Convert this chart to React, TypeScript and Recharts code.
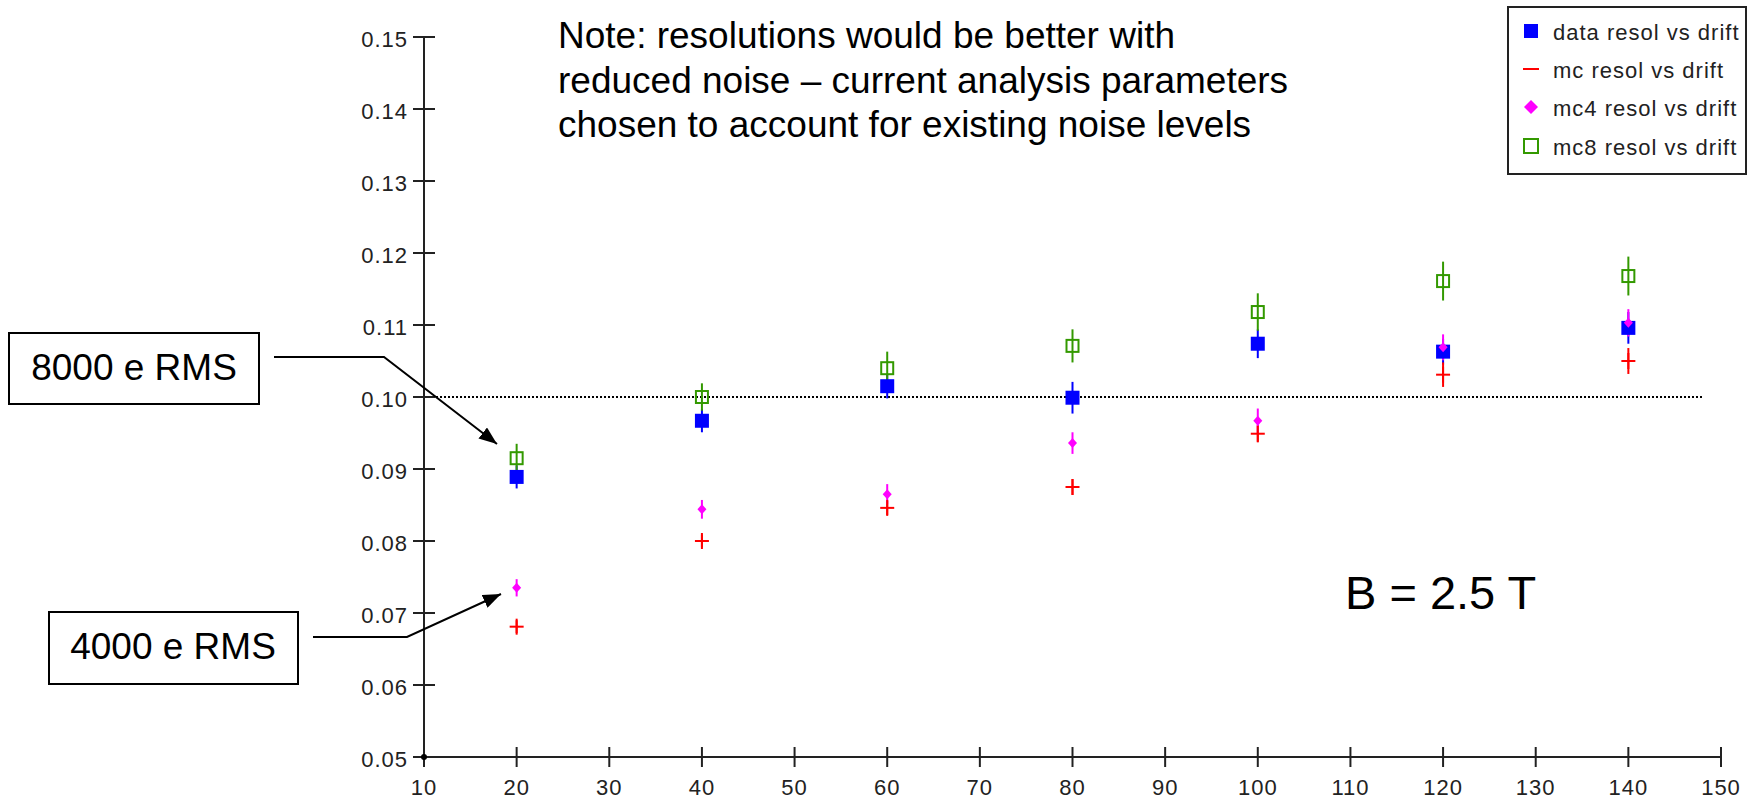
import React from 'react';
import { ScatterChart, Scatter, XAxis, YAxis, ErrorBar, ReferenceLine } from 'recharts';

// drift distance (x) and resolution values
const drift = [20, 40, 60, 80, 100, 120, 140];

const dataResol = [0.0889, 0.0967, 0.1015, 0.0999, 0.1074, 0.1063, 0.1096];
const dataErr = [0.0016, 0.0016, 0.0017, 0.0022, 0.002, 0.0018, 0.0022];

const mcResol = [0.0681, 0.08, 0.0846, 0.0875, 0.0949, 0.1031, 0.105];
const mcErr = [0.0009, 0.0009, 0.001, 0.0011, 0.0012, 0.0017, 0.0018];

const mc4Resol = [0.0735, 0.0844, 0.0865, 0.0936, 0.0967, 0.1069, 0.1103];
const mc4Err = [0.0012, 0.0013, 0.0014, 0.0015, 0.0017, 0.0018, 0.0019];

const mc8Resol = [0.0915, 0.1, 0.104, 0.1071, 0.1118, 0.1161, 0.1168];
const mc8Err = [0.002, 0.0019, 0.0023, 0.0023, 0.0026, 0.0027, 0.0027];

const xTicks = [10, 20, 30, 40, 50, 60, 70, 80, 90, 100, 110, 120, 130, 140, 150];
const yTicks = [0.05, 0.06, 0.07, 0.08, 0.09, 0.1, 0.11, 0.12, 0.13, 0.14, 0.15];

const legendLabels = ['data resol vs drift', 'mc resol vs drift', 'mc4 resol vs drift', 'mc8 resol vs drift'];

const noteLines = [
  'Note: resolutions would be better with',
  'reduced noise \u2013 current analysis parameters',
  'chosen to account for existing noise levels',
];

const toPoints = (vals: number[], errs: number[]) =>
  drift.map((x, i) => ({ x, y: vals[i], err: errs[i] }));

const AXIS = '#222';
const TICK_FONT = '"Liberation Sans", Arial, sans-serif';
const BLUE = '#0000ff';
const RED = '#ff0000';
const MAGENTA = '#ff00ff';
const GREEN = '#339900';

const BlueSquare = (p: any) => (
  <rect x={p.cx - 7} y={p.cy - 7} width={14} height={14} fill={BLUE} />
);
const RedCross = (p: any) => (
  <g stroke={RED} strokeWidth={2}>
    <line x1={p.cx - 7} x2={p.cx + 7} y1={p.cy} y2={p.cy} />
    <line x1={p.cx} x2={p.cx} y1={p.cy - 8} y2={p.cy + 8} />
  </g>
);
const MagentaDiamond = (p: any) => (
  <path d={`M${p.cx},${p.cy - 5} L${p.cx + 4.5},${p.cy} L${p.cx},${p.cy + 5} L${p.cx - 4.5},${p.cy} Z`} fill={MAGENTA} />
);
const GreenSquare = (p: any) => (
  <rect x={p.cx - 6} y={p.cy - 6} width={12} height={12} fill="none" stroke={GREEN} strokeWidth={2} />
);

const XTick = ({ x, y, payload }: any) => (
  <g>
    <line x1={x} x2={x} y1={y - 10} y2={y + 10} stroke={AXIS} strokeWidth={2} />
    <text x={x} y={y + 38} textAnchor="middle" fontSize={22} letterSpacing={1} fill={AXIS} fontFamily={TICK_FONT}>
      {payload.value}
    </text>
  </g>
);

const YTick = ({ x, y, payload }: any) => (
  <g>
    <line x1={x - 11} x2={x + 11} y1={y} y2={y} stroke={AXIS} strokeWidth={2} />
    <text x={x - 16} y={y + 10} textAnchor="end" fontSize={22} letterSpacing={1} fill={AXIS} fontFamily={TICK_FONT}>
      {Number(payload.value).toFixed(2)}
    </text>
  </g>
);

const legendMarks = [
  (cy: number) => <rect x={1524} y={cy - 7} width={14} height={14} fill={BLUE} />,
  (cy: number) => <line x1={1523} x2={1539} y1={cy} y2={cy} stroke={RED} strokeWidth={2} />,
  (cy: number) => <path d={`M1531,${cy - 7} L1538,${cy} L1531,${cy + 7} L1524,${cy} Z`} fill={MAGENTA} />,
  (cy: number) => <rect x={1524} y={cy - 7} width={14} height={14} fill="none" stroke={GREEN} strokeWidth={2} />,
];
const legendRows = [31, 69, 107, 146];

const Overlay = () => (
  <svg width={1757} height={799} style={{ position: 'absolute', left: 0, top: 0, pointerEvents: 'none' }}>
    <defs>
      <marker id="arrow" markerUnits="userSpaceOnUse" markerWidth={18} markerHeight={14} refX={18} refY={7} orient="auto">
        <path d="M0,0 L18,7 L0,14 Z" fill="#000" />
      </marker>
    </defs>
    <g fontFamily={TICK_FONT} fill="#000">
      {noteLines.map((t, i) => (
        <text key={t} x={558} y={48 + i * 44.5} fontSize={37}>{t}</text>
      ))}
      <text x={1345} y={609} fontSize={47}>B = 2.5 T</text>
    </g>
    <rect x={9} y={333} width={250} height={71} fill="#fff" stroke="#000" strokeWidth={2} />
    <text x={134} y={380} fontSize={37} textAnchor="middle" fontFamily={TICK_FONT}>8000 e RMS</text>
    <polyline points="274,357 384,357 497,444" fill="none" stroke="#000" strokeWidth={2} markerEnd="url(#arrow)" />
    <rect x={49} y={612} width={249} height={72} fill="#fff" stroke="#000" strokeWidth={2} />
    <text x={173} y={659} fontSize={37} textAnchor="middle" fontFamily={TICK_FONT}>4000 e RMS</text>
    <polyline points="313,637 407,637 501,594" fill="none" stroke="#000" strokeWidth={2} markerEnd="url(#arrow)" />
    <circle cx={424} cy={757} r={3} fill="#000" />
    <rect x={1508} y={7} width={238} height={167} fill="#fff" stroke={AXIS} strokeWidth={2} />
    {legendLabels.map((label, i) => (
      <g key={label}>
        {legendMarks[i](legendRows[i])}
        <text x={1553} y={legendRows[i] + 9} fontSize={22} letterSpacing={1} fill={AXIS} fontFamily={TICK_FONT}>
          {label}
        </text>
      </g>
    ))}
  </svg>
);

const App: React.FC = () => {
  return (
    <div style={{ position: 'absolute', left: 0, top: 0, width: 1757, height: 799, background: '#fff' }}>
      <ScatterChart width={1757} height={799} margin={{ top: 37, right: 36, bottom: 0, left: 0 }}>
        <XAxis
          type="number"
          dataKey="x"
          domain={[10, 150]}
          ticks={xTicks}
          interval={0}
          height={42}
          tickSize={0}
          tickMargin={0}
          tickLine={false}
          axisLine={{ stroke: AXIS, strokeWidth: 2 }}
          tick={<XTick />}
        />
        <YAxis
          type="number"
          dataKey="y"
          domain={[0.05, 0.15]}
          ticks={yTicks}
          interval={0}
          width={424}
          tickSize={0}
          tickMargin={0}
          tickLine={false}
          axisLine={{ stroke: AXIS, strokeWidth: 2 }}
          tick={<YTick />}
        />
        <ReferenceLine
          segment={[{ x: 10, y: 0.1 }, { x: 148, y: 0.1 }]}
          stroke="#000"
          strokeWidth={2}
          strokeDasharray="2 2"
        />
        <Scatter data={toPoints(dataResol, dataErr)} shape={BlueSquare} isAnimationActive={false}>
          <ErrorBar dataKey="err" direction="y" width={0} stroke={BLUE} strokeWidth={2} />
        </Scatter>
        <Scatter data={toPoints(mcResol, mcErr)} shape={RedCross} isAnimationActive={false}>
          <ErrorBar dataKey="err" direction="y" width={0} stroke={RED} strokeWidth={2} />
        </Scatter>
        <Scatter data={toPoints(mc4Resol, mc4Err)} shape={MagentaDiamond} isAnimationActive={false}>
          <ErrorBar dataKey="err" direction="y" width={0} stroke={MAGENTA} strokeWidth={2} />
        </Scatter>
        <Scatter data={toPoints(mc8Resol, mc8Err)} shape={GreenSquare} isAnimationActive={false}>
          <ErrorBar dataKey="err" direction="y" width={0} stroke={GREEN} strokeWidth={2} />
        </Scatter>
      </ScatterChart>
      <Overlay />
    </div>
  );
};

export default App;
